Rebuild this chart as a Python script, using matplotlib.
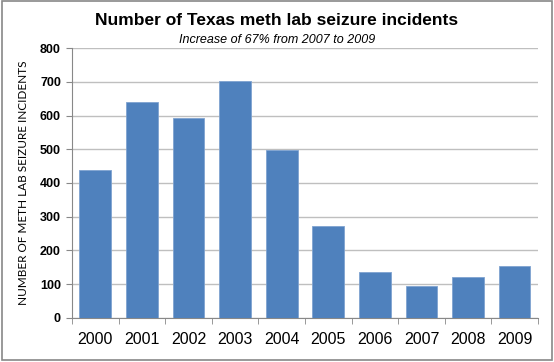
import matplotlib
matplotlib.use("Agg")
import matplotlib.pyplot as plt
import numpy as np

years = ["2000", "2001", "2002", "2003", "2004", "2005", "2006", "2007", "2008", "2009"]
incidents = [438, 639, 593, 704, 497, 273, 136, 93, 122, 155]
yticks = [0, 100, 200, 300, 400, 500, 600, 700, 800]

plt.rcParams['font.family'] = ['Liberation Sans', 'DejaVu Sans']
fig = plt.figure(figsize=(5.54, 3.62), dpi=100)
ax = fig.add_axes([0.13, 0.122, 0.841, 0.745])

x = np.arange(len(years))
ax.bar(x, incidents, width=0.68, color="#4F81BD", edgecolor="#7FA3D0", linewidth=0.6, zorder=3)

ax.set_xlim(-0.5, len(years) - 0.5)
ax.set_ylim(0, 800)
ax.set_yticks(yticks)
ax.set_yticklabels([str(v) for v in yticks], fontsize=9, fontweight="bold")
ax.set_xticks(x)
ax.set_xticklabels(years, fontsize=11.5)
ax.tick_params(axis="x", length=0, pad=10)
ax.set_xticks(np.arange(-0.5, len(years), 1), minor=True)
ax.tick_params(axis="x", which="minor", length=4, color="#888888", direction="out")
ax.tick_params(axis="y", length=4, color="#888888", pad=4)
ax.grid(axis="y", color="#BFBFBF", linewidth=1, zorder=0)
for s in ["top", "right"]:
    ax.spines[s].set_visible(False)
ax.spines["left"].set_color("#888888")
ax.spines["bottom"].set_color("#888888")

ax.set_ylabel("NUMBER OF METH LAB SEIZURE INCIDENTS", fontsize=8.5,
              family=["Lato", "DejaVu Sans"], labelpad=8)

fig.text(0.5, 0.942, "Number of Texas meth lab seizure incidents", ha="center", va="center",
         fontsize=12.5, fontweight="bold")
fig.text(0.5, 0.889, "Increase of 67% from 2007 to 2009", ha="center", va="center",
         fontsize=9, fontstyle="italic")

border = plt.Rectangle((0.003, 0.006), 0.994, 0.99, transform=fig.transFigure,
                       fill=False, edgecolor="#888888", linewidth=1.2)
fig.patches.append(border)

fig.savefig("out.png", dpi=100)
